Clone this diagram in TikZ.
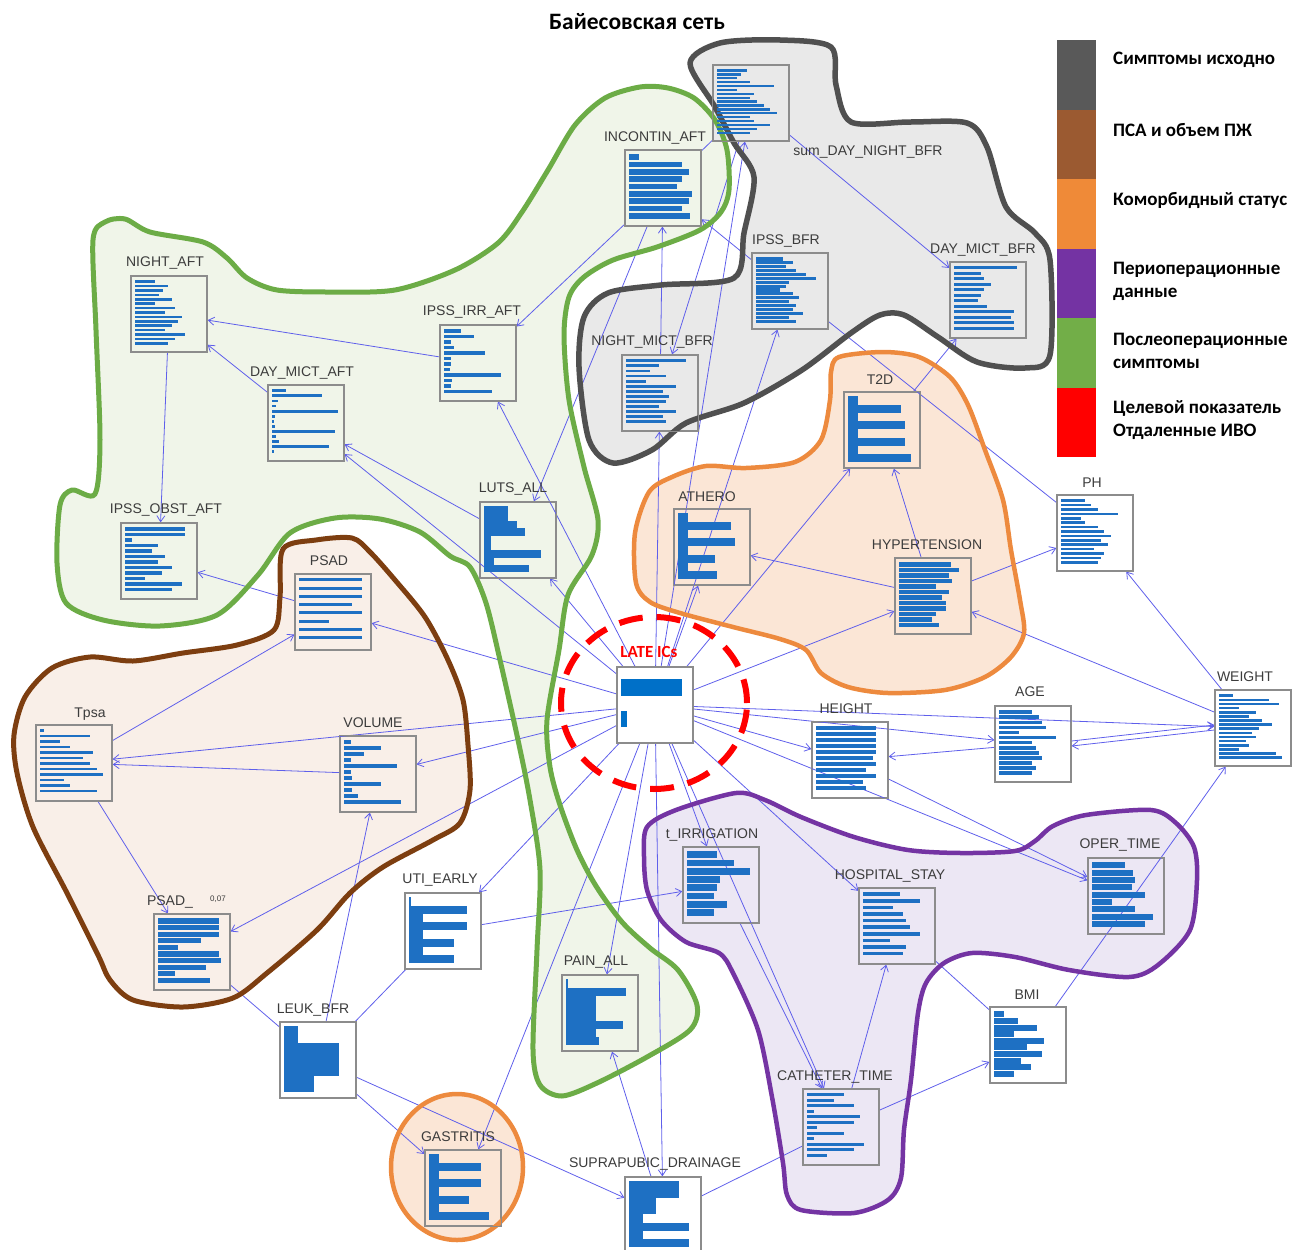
\documentclass[tikz,border=0pt]{standalone}
\usepackage{fontspec}
\setmainfont{Liberation Sans}
\newfontfamily\legfont{Carlito}
\usetikzlibrary{arrows.meta}

\begin{document}
\begin{tikzpicture}[x=1pt, y=-1pt, font=\fontsize{14}{16}\selectfont]

\definecolor{netblue}{RGB}{95,95,235}
\definecolor{barblue}{RGB}{30,112,195}
\definecolor{latebar}{RGB}{0,112,200}
\definecolor{histgray}{RGB}{140,140,140}
\definecolor{lblgray}{RGB}{60,60,60}
\definecolor{grayfill}{RGB}{233,233,233}
\definecolor{grayline}{RGB}{80,80,80}
\definecolor{greenfill}{RGB}{240,245,233}
\definecolor{greenline}{RGB}{108,172,70}
\definecolor{brownfill}{RGB}{249,239,232}
\definecolor{brownline}{RGB}{125,62,16}
\definecolor{orangefill}{RGB}{251,230,214}
\definecolor{orangeline}{RGB}{237,138,62}
\definecolor{purplefill}{RGB}{236,231,244}
\definecolor{purpleline}{RGB}{116,52,163}
\definecolor{leggray}{RGB}{89,89,89}
\definecolor{legbrown}{RGB}{155,90,49}
\definecolor{legorange}{RGB}{239,138,56}
\definecolor{legpurple}{RGB}{116,51,163}
\definecolor{leggreen}{RGB}{114,174,72}
\definecolor{legred}{RGB}{255,0,0}

% Histogram inside a node: one bar per entry of #3, as a fraction of the
% inner width, stacked from the top; #2 is the bar height as a share of a row.
\newcommand{\histbars}[3]{%
  \foreach \barw [count=\barc] in {#3}{\xdef\histn{\barc}}%
  \foreach \barw [count=\bari] in {#3}{%
    \fill[barblue] ([xshift=5pt,yshift=-5pt]#1.north west)
      ++(0,{(\bari-1)*66/\histn}) rectangle ++({\barw*66},{#2*66/\histn});
  }%
}

% Hand-drawn group outlines, kept as paths so that the fill can go under the
% connectors and the stroke over them.
\newcommand{\blobgray}{plot[smooth cycle] coordinates {
  (690,63) (720,43) (780,40) (831,47) (836,85) (851,122) (910,122) (967,123)
  (987,147) (1006,207) (1035,233) (1050,260) (1050,355) (1025,368) (977,362)
  (938,337) (904,315) (880,315) (851,333) (802,370) (744,403) (686,423)
  (652,450) (613,463) (589,440) (579,367) (584,317) (608,293) (661,285)
  (734,278) (744,233) (754,177) (734,143) (715,107)}}
\newcommand{\blobgreen}{plot[smooth cycle] coordinates {
  (93,240) (105,222) (125,219) (150,232) (203,242) (227,258) (247,278)
  (277,290) (330,292) (395,290) (455,270) (498,243) (522,212) (548,170)
  (575,125) (605,98) (640,87) (668,88) (694,98) (715,120) (727,150) (729,190)
  (721,212) (700,230) (657,247) (613,260) (584,277) (569,297) (564,335)
  (569,400) (584,467) (598,520) (592,555) (568,595) (559,650) (547,720)
  (550,767) (560,805) (577,850) (596,886) (622,922) (650,948) (678,970)
  (697,1005) (690,1030) (647,1057) (597,1083) (562,1096) (540,1085)
  (533,1050) (537,950) (540,870) (530,800) (518,740) (500,660) (486,603)
  (470,567) (450,556) (420,532) (380,519) (335,518) (290,533) (258,575)
  (217,615) (160,626) (103,620) (66,603) (57,563) (60,505) (72,490)
  (95,494) (100,440) (96,330)}}
\newcommand{\blobbrown}{plot[smooth cycle] coordinates {
  (283,549) (316,540) (352,538) (370,552) (395,580) (425,617) (448,660)
  (463,700) (468,745) (470,790) (460,823) (433,840) (383,867) (350,893)
  (317,930) (267,973) (233,998) (183,1007) (133,1000) (110,980) (98,955)
  (67,893) (33,827) (17,773) (14,735) (25,697) (52,668) (90,657) (133,661)
  (183,653) (237,645) (274,630) (280,597)}}
\newcommand{\bloborange}{plot[smooth cycle] coordinates {
  (839,357) (883,352) (919,357) (950,377) (968,405) (985,450) (1003,500)
  (1011,550) (1020,600) (1024,633) (1011,657) (985,677) (945,690) (888,693)
  (848,687) (821,673) (806,650) (780,639) (733,627) (680,613) (650,602)
  (636,583) (635,533) (649,492) (672,477) (706,466) (746,468) (795,462)
  (821,440) (830,400) (831,372)}}
\newcommand{\blobpurple}{plot[smooth cycle] coordinates {
  (647,827) (676,810) (736,793) (765,800) (801,817) (854,837) (908,850)
  (961,853) (1015,851) (1035,841) (1053,826) (1086,815) (1151,810)
  (1176,823) (1194,847) (1197,880) (1190,930) (1158,965) (1129,977)
  (1069,970) (1015,957) (972,953) (944,963) (926,983) (918,1013) (911,1080)
  (904,1130) (901,1178) (888,1200) (854,1213) (801,1210) (787,1195)
  (783,1163) (772,1097) (758,1030) (733,973) (719,953) (686,942) (661,920)
  (647,890) (644,857)}}
\newcommand{\blobgastr}{(457,1167) ellipse [x radius=66pt, y radius=73pt]}

\tikzset{
  hist/.style={draw=histgray, line width=1.2pt, minimum size=76pt,
    inner sep=0pt, fill=white},
  ingray/.style={fill=grayfill},
  ingreen/.style={fill=greenfill},
  inbrown/.style={fill=brownfill},
  inorange/.style={fill=orangefill},
  inpurple/.style={fill=purplefill},
  lbl/.style={text=lblgray, inner sep=1pt},
  netedge/.style={draw=netblue, line width=0.8pt,
    -{Straight Barb[length=6pt,width=8pt]}},
  netline/.style={draw=netblue, line width=0.8pt},
  blobline/.style={line width=5pt, line join=round},
  legtext/.style={anchor=west, align=left, inner sep=0pt,
    font=\legfont\bfseries\fontsize{19}{23}\selectfont}
}

\useasboundingbox (0,0) rectangle (1293,1250);

% Group fills first, so connectors run across them.
\fill[grayfill]   \blobgray;
\fill[greenfill]  \blobgreen;
\fill[brownfill]  \blobbrown;
\fill[orangefill] \bloborange;
\fill[orangefill] \blobgastr;
\fill[purplefill] \blobpurple;

% Variable nodes, at the centre of each histogram box.
\node[hist,ingray]   (sumdn)      at (751,103)  {};
\node[hist,ingreen]  (incontin)   at (663,188)  {};
\node[hist,ingreen]  (nightaft)   at (169,314)  {};
\node[hist,ingreen]  (ipssirr)    at (478,363)  {};
\node[hist,ingreen]  (daymictaft) at (306,423)  {};
\node[hist,ingray]   (ipssbfr)    at (790,291)  {};
\node[hist,ingray]   (daymictbfr) at (988,300)  {};
\node[hist,ingray]   (nightmict)  at (660,393)  {};
\node[hist,inorange] (t2d)        at (882,430)  {};
\node[hist,ingreen]  (luts)       at (518,540)  {};
\node[hist,inorange] (athero)     at (712,547)  {};
\node[hist]          (ph)         at (1095,533) {};
\node[hist,ingreen]  (ipssobst)   at (159,561)  {};
\node[hist,inorange] (hyper)      at (933,596)  {};
\node[hist,inbrown]  (psad)       at (333,612)  {};
\node[hist]          (late)       at (655,705)  {};
\node[hist,inbrown]  (tpsa)       at (74,763)   {};
\node[hist,inbrown]  (volume)     at (378,774)  {};
\node[hist]          (age)        at (1033,744) {};
\node[hist]          (weight)     at (1253,728) {};
\node[hist]          (height)     at (850,760)  {};
\node[hist,inpurple] (tirr)       at (721,885)  {};
\node[hist,inpurple] (oper)       at (1126,896) {};
\node[hist,inpurple] (hosp)       at (897,926)  {};
\node[hist]          (uti)        at (443,931)  {};
\node[hist,inbrown]  (psadseven)  at (192,952)  {};
\node[hist,ingreen]  (pain)       at (600,1013) {};
\node[hist]          (bmi)        at (1028,1045) {};
\node[hist]          (leuk)       at (318,1060) {};
\node[hist,inpurple] (cath)       at (841,1127) {};
\node[hist,inorange] (gastr)      at (463,1188) {};
\node[hist]          (supra)      at (663,1215) {};

% Arcs of the network; the tip sits on the child.
\foreach \from/\to in {
  ipssirr/nightaft, daymictaft/nightaft, nightaft/ipssobst,
  luts/daymictaft, late/daymictaft, late/ipssirr, incontin/ipssirr,
  incontin/luts, late/luts, nightmict/incontin, late/nightmict,
  sumdn/nightmict, late/sumdn, ipssbfr/incontin, sumdn/daymictbfr,
  t2d/daymictbfr, late/ipssbfr, late/athero, late/t2d, hyper/athero,
  hyper/t2d, hyper/ph, weight/hyper, weight/ph, late/hyper,
  late/psad, late/tpsa, late/volume, volume/tpsa, tpsa/psad,
  tpsa/psadseven, psad/ipssobst, late/psadseven, late/uti,
  leuk/volume, leuk/gastr, leuk/supra, late/gastr, late/pain,
  supra/pain, late/supra, uti/tirr, late/tirr, late/cath, tirr/cath,
  cath/hosp, cath/bmi, bmi/weight, late/hosp, late/oper, height/oper,
  late/height, late/age, age/height, late/weight}
  \draw[netedge] (\from) -- (\to);
\draw[netedge] ([yshift=3pt]age.east) -- ([yshift=3pt]weight.west);
\draw[netedge] ([yshift=-2pt]weight.west) -- ([yshift=-2pt]age.east);
\foreach \from/\to in {
  sumdn/incontin, ipssbfr/ph, leuk/uti, psadseven/leuk,
  supra/cath, hosp/bmi}
  \draw[netline] (\from) -- (\to);

% Group strokes over the connectors.
\draw[blobline, grayline, line width=5.5pt] \blobgray;
\draw[blobline, greenline]  \blobgreen;
\draw[blobline, brownline]  \blobbrown;
\draw[blobline, orangeline, line width=4.5pt] \bloborange;
\draw[blobline, orangeline, line width=4.5pt] \blobgastr;
\draw[blobline, purpleline, line width=4.5pt] \blobpurple;

% The target variable.
\draw[legred, line width=6pt, dash pattern=on 24pt off 14pt]
  (654,703) ellipse [x radius=93pt, y radius=86pt];

% Boxes again on top, so the strokes never cut through them.
\foreach \histnode in {sumdn,incontin,nightaft,ipssirr,daymictaft,ipssbfr,
  daymictbfr,nightmict,t2d,luts,athero,ph,ipssobst,hyper,psad,late,tpsa,
  volume,age,weight,height,tirr,oper,hosp,uti,psadseven,pain,bmi,leuk,cath,
  gastr,supra}
  \draw[histgray, line width=1.2pt] (\histnode.north west) rectangle (\histnode.south east);

% Histograms.
\histbars{sumdn}{0.6}{0.45,0.35,0.3,0.5,0.85,0.3,0.55,0.5,0.6,0.7,0.8,0.9,0.5,0.55,0.8,0.6,0.5}
\histbars{incontin}{0.75}{0.15,0.8,0.9,0.8,0.72,0.95,0.9,0.8,0.92}
\histbars{nightaft}{0.6}{0.3,0.5,0.42,0.35,0.55,0.3,0.6,0.45,0.7,0.65,0.55,0.45,0.75,0.6,0.5}
\histbars{ipssirr}{0.6}{0.25,0.45,0.1,0.15,0.62,0.1,0.1,0.08,0.85,0.12,0.1,0.72}
\histbars{daymictaft}{0.55}{0.2,0.75,0.08,0.05,1.0,0.04,0.03,0.04,0.95,0.05,0.1,0.85,0.03}
\histbars{ipssbfr}{0.8}{0.4,0.55,0.45,0.6,0.75,0.9,0.5,0.45,0.35,0.55,0.65,0.5,0.6,0.55,0.7,0.5,0.6}
\histbars{daymictbfr}{0.5}{0.95,0.4,0.45,0.55,0.45,0.4,0.35,0.5,0.9,0.85,0.9,0.9}
\histbars{nightmict}{0.55}{0.9,0.5,0.35,0.6,0.3,0.75,0.55,0.65,0.6,0.5,0.75,0.55,0.6}
\histbars{t2d}{1}{0.15,0.8,0.15,0.85,0.15,0.85,0.15,0.95}
\histbars{luts}{1}{0.35,0.35,0.5,0.62,0.1,0.1,0.85,0.15,0.68}
\histbars{athero}{1}{0.15,0.8,0.15,0.85,0.15,0.55,0.15,0.58}
\histbars{ph}{0.6}{0.35,0.45,0.55,0.85,0.3,0.35,0.55,0.65,0.75,0.6,0.7,0.5,0.65,0.6,0.55}
\histbars{ipssobst}{0.6}{0.9,0.9,0.1,0.5,0.4,0.6,0.5,0.7,0.55,0.3,0.85,0.7}
\histbars{hyper}{0.75}{0.78,0.9,0.75,0.8,0.55,0.75,0.65,0.7,0.7,0.55,0.5,0.6}
\histbars{psad}{0.35}{0.95,0.95,0.95,0.8,0.95,0.45,0.95,0.95}
\histbars{tpsa}{0.45}{0.05,0.75,0.3,0.45,0.8,0.65,0.75,0.85,0.95,0.35,0.45,0.85}
\histbars{volume}{0.6}{0.1,0.55,0.3,0.1,0.8,0.1,0.12,0.55,0.12,0.2,0.85}
\histbars{age}{0.7}{0.5,0.6,0.65,0.7,0.3,0.85,0.5,0.55,0.6,0.65,0.5,0.55,0.5}
\histbars{weight}{0.65}{0.2,0.75,0.9,0.3,0.55,0.45,0.65,0.8,0.6,0.5,0.55,0.4,0.45,0.3,0.85,0.95}
\histbars{height}{0.6}{0.9,0.9,0.9,0.9,0.9,0.85,0.9,0.75,0.9,0.7,0.75}
\histbars{tirr}{0.8}{0.45,0.7,0.95,0.5,0.45,0.4,0.6,0.4}
\histbars{oper}{0.8}{0.5,0.62,0.65,0.6,0.8,0.3,0.65,0.92,0.8}
\histbars{hosp}{0.55}{0.55,0.85,0.45,0.6,0.65,0.7,0.85,0.4,0.65,0.6}
\histbars{uti}{1}{0.03,0.88,0.2,0.88,0.2,0.68,0.2,0.68}
\histbars{psadseven}{0.8}{0.92,0.92,0.92,0.65,0.3,0.92,0.95,0.72,0.25,0.78}
\histbars{pain}{1}{0.03,0.9,0.45,0.45,0.45,0.85,0.45,0.5}
\histbars{bmi}{0.9}{0.15,0.35,0.65,0.3,0.75,0.5,0.72,0.4,0.55,0.3}
\histbars{leuk}{1}{0.2,0.2,0.82,0.82,0.82,0.82,0.45,0.45}
\histbars{cath}{0.5}{0.55,0.4,0.7,0.1,0.8,0.7,0.15,0.55,0.1,0.85,0.7,0.3}
\histbars{gastr}{1}{0.15,0.78,0.15,0.78,0.15,0.6,0.15,0.9}
\histbars{supra}{1}{0.75,0.75,0.4,0.4,0.2,0.9,0.2,0.9}
\fill[latebar] ([xshift=5pt,yshift=-13pt]late.north west) rectangle ++(61,17);
\fill[latebar] ([xshift=5pt,yshift=-45pt]late.north west) rectangle ++(6,16);

% Variable names.
\node[lbl] (sumdn-l)      at (868,152)  {sum\_DAY\_NIGHT\_BFR};
\node[lbl] (incontin-l)   at (655,138)  {INCONTIN\_AFT};
\node[lbl] (nightaft-l)   at (165,263)  {NIGHT\_AFT};
\node[lbl] (ipssirr-l)    at (472,312)  {IPSS\_IRR\_AFT};
\node[lbl] (daymictaft-l) at (302,373)  {DAY\_MICT\_AFT};
\node[lbl] (ipssbfr-l)    at (786,241)  {IPSS\_BFR};
\node[lbl] (daymictbfr-l) at (983,250)  {DAY\_MICT\_BFR};
\node[lbl] (nightmict-l)  at (652,342)  {NIGHT\_MICT\_BFR};
\node[lbl] (t2d-l)        at (880,380)  {T2D};
\node[lbl] (luts-l)       at (513,489)  {LUTS\_ALL};
\node[lbl] (athero-l)     at (707,497)  {ATHERO};
\node[lbl] (ph-l)         at (1092,483) {PH};
\node[lbl] (ipssobst-l)   at (166,510)  {IPSS\_OBST\_AFT};
\node[lbl] (hyper-l)      at (927,545)  {HYPERTENSION};
\node[lbl] (psad-l)       at (329,561)  {PSAD};
\node[lbl] (tpsa-l)       at (90,714)   {Tpsa};
\node[lbl] (volume-l)     at (373,723)  {VOLUME};
\node[lbl] (age-l)        at (1030,692) {AGE};
\node[lbl] (weight-l)     at (1245,677) {WEIGHT};
\node[lbl] (height-l)     at (846,709)  {HEIGHT};
\node[lbl] (tirr-l)       at (712,835)  {t\_IRRIGATION};
\node[lbl] (oper-l)       at (1120,845) {OPER\_TIME};
\node[lbl] (hosp-l)       at (890,876)  {HOSPITAL\_STAY};
\node[lbl] (uti-l)        at (440,880)  {UTI\_EARLY};
\node[lbl] (psadseven-l)  at (170,902)  {PSAD\_};
\node[lbl, font=\fontsize{8}{9}\selectfont] (psadseven-s) at (218,899) {0,07};
\node[lbl] (pain-l)       at (596,962)  {PAIN\_ALL};
\node[lbl] (bmi-l)        at (1027,995) {BMI};
\node[lbl] (leuk-l)       at (313,1010) {LEUK\_BFR};
\node[lbl] (cath-l)       at (835,1077) {CATHETER\_TIME};
\node[lbl] (gastr-l)      at (458,1137) {GASTRITIS};
\node[lbl] (supra-l)      at (655,1164) {SUPRAPUBIC\_DRAINAGE};
\node[text=legred, font=\legfont\bfseries\fontsize{17}{19}\selectfont]
  (late-l) at (649,652) {LATE ICs};

% Title.
\node[font=\legfont\bfseries\fontsize{23.5}{27}\selectfont, text=black]
  (title) at (637,22) {Байесовская сеть};

% Legend: one swatch per group, in a single column.
\fill[leggray]   (1057,40)  rectangle (1096,110);
\fill[legbrown]  (1057,110) rectangle (1096,179);
\fill[legorange] (1057,179) rectangle (1096,249);
\fill[legpurple] (1057,249) rectangle (1096,318);
\fill[leggreen]  (1057,318) rectangle (1096,388);
\fill[legred]    (1057,388) rectangle (1096,457);
\node[legtext] (leg-a) at (1113,60)  {Симптомы исходно};
\node[legtext] (leg-b) at (1113,130) {ПСА и объем ПЖ};
\node[legtext] (leg-c) at (1113,200) {Коморбидный статус};
\node[legtext] (leg-d) at (1113,281) {Периоперационные\\данные};
\node[legtext] (leg-e) at (1113,351) {Послеоперационные\\симптомы};
\node[legtext] (leg-f) at (1113,420) {Целевой показатель\\Отдаленные ИВО};

\end{tikzpicture}
\end{document}
